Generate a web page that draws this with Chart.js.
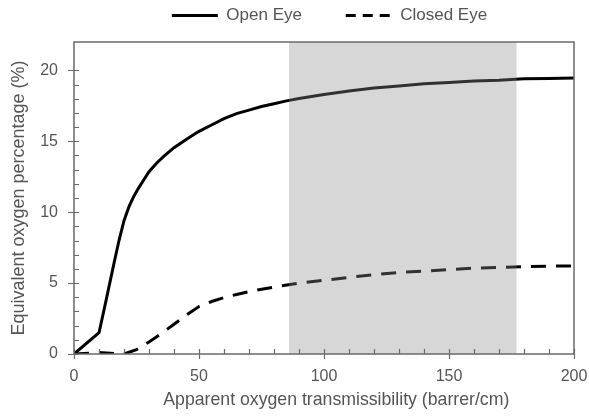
<!DOCTYPE html>
<html>
<head>
<meta charset="utf-8">
<script src="https://cdn.jsdelivr.net/npm/chart.js@4.4.1/dist/chart.umd.min.js"></script>
<style>
  html, body { margin: 0; padding: 0; background: #ffffff; }
  #wrap { width: 589px; height: 416px; }
</style>
</head>
<body>
<div id="wrap"><canvas id="chart" width="589" height="416"></canvas></div>
<script>
// Equivalent oxygen percentage vs. apparent oxygen transmissibility
const seriesNames = ['Open Eye', 'Closed Eye'];

const openEyeDk = [0, 10, 12, 14, 16, 18, 20, 22, 24, 26, 28, 30, 33, 36, 40, 45, 50, 55, 60, 65, 70, 75, 80, 85, 90, 100, 110, 120, 130, 140, 150, 160, 170, 180, 190, 200];
const openEyePct = [0, 1.5, 3.1, 4.75, 6.4, 8.0, 9.4, 10.4, 11.15, 11.75, 12.3, 12.85, 13.45, 13.95, 14.55, 15.15, 15.7, 16.15, 16.6, 16.95, 17.2, 17.45, 17.65, 17.85, 18.02, 18.3, 18.55, 18.75, 18.9, 19.05, 19.15, 19.25, 19.3, 19.4, 19.42, 19.47];

const closedEyeDk = [0, 10, 20, 25, 30, 35, 40, 45, 50, 55, 60, 65, 70, 80, 90, 100, 110, 120, 130, 140, 150, 160, 170, 180, 190, 200];
const closedEyePct = [0, 0.1, 0, 0.3, 0.85, 1.45, 2.1, 2.75, 3.35, 3.7, 3.98, 4.2, 4.4, 4.72, 5.0, 5.2, 5.4, 5.6, 5.75, 5.85, 5.95, 6.05, 6.1, 6.15, 6.2, 6.2];

// Shaded transmissibility range
const bandRange = [86, 177];

const xTickStep = 50, xMinorStep = 10;
const yTickStep = 5, yMinorStep = 1;

const FONT = '"Liberation Sans", Arial, sans-serif';
const TEXT = '#555555';
const AXIS = '#6a6a6a';

const toPoints = (xs, ys) => xs.map((x, i) => ({ x, y: ys[i] }));

const decor = {
  id: 'decor',
  afterLayout(chart) {
    // legend row sits right of the canvas centre, close to the top edge
    const lg = chart.legend;
    lg.left += 35;
    lg.right += 35;
    lg.top -= 8;
    lg.bottom -= 8;
  },
  afterDatasetsDraw(chart) {
    const { ctx, chartArea: a, scales: { x } } = chart;
    const x0 = x.getPixelForValue(bandRange[0]);
    const x1 = x.getPixelForValue(bandRange[1]);
    ctx.save();
    ctx.fillStyle = 'rgba(140,140,140,0.35)';
    ctx.fillRect(x0, a.top, x1 - x0, a.bottom - a.top);
    ctx.restore();
  },
  afterDraw(chart) {
    const { ctx, chartArea: a, scales: { x, y } } = chart;
    ctx.save();
    ctx.strokeStyle = AXIS;
    ctx.lineWidth = 1.5;
    ctx.strokeRect(a.left, a.top, a.right - a.left, a.bottom - a.top);
    ctx.lineWidth = 1.2;
    ctx.beginPath();
    for (let v = x.min; v <= x.max; v += xMinorStep) {
      const px = Math.round(x.getPixelForValue(v)) + 0.5;
      const major = v % xTickStep === 0;
      ctx.moveTo(px, a.bottom - 5);
      ctx.lineTo(px, a.bottom + (major ? 5 : 0));
    }
    for (let v = y.min; v <= 20; v += yMinorStep) {
      const py = Math.round(y.getPixelForValue(v)) + 0.5;
      const major = v % yTickStep === 0;
      ctx.moveTo(a.left + 5, py);
      ctx.lineTo(a.left - (major ? 6 : 0), py);
    }
    ctx.stroke();
    ctx.restore();
  }
};

new Chart(document.getElementById('chart'), {
  type: 'line',
  data: {
    datasets: [
      {
        label: seriesNames[0],
        data: toPoints(openEyeDk, openEyePct),
        borderColor: '#000000',
        borderWidth: 3,
        pointRadius: 0,
        pointStyle: 'line',
        tension: 0
      },
      {
        label: seriesNames[1],
        data: toPoints(closedEyeDk, closedEyePct),
        borderColor: '#000000',
        borderWidth: 3,
        borderDash: [15, 10],
        pointRadius: 0,
        pointStyle: 'line',
        tension: 0
      }
    ]
  },
  options: {
    responsive: false,
    devicePixelRatio: 1,
    animation: false,
    layout: { padding: 0 },
    plugins: {
      tooltip: { enabled: false },
      legend: {
        position: 'top',
        labels: {
          usePointStyle: true,
          pointStyleWidth: 46,
          padding: 6,
          color: TEXT,
          font: { family: FONT, size: 17 },
          generateLabels(chart) {
            const items = Chart.defaults.plugins.legend.labels.generateLabels(chart);
            items.forEach((it, i) => {
              it.lineWidth = 3;
              if (i === 0) it.text = it.text + '        ';
              if (i === 1) it.lineDash = [10, 7];
            });
            return items;
          }
        }
      }
    },
    scales: {
      x: {
        type: 'linear',
        min: 0,
        max: 200,
        grid: { display: false, drawTicks: false },
        border: { display: false },
        ticks: { stepSize: xTickStep, padding: 13, color: TEXT, font: { family: FONT, size: 16 } },
        title: {
          display: true,
          text: '     Apparent oxygen transmissibility (barrer/cm)',
          color: TEXT,
          font: { family: FONT, size: 17.7 },
          padding: { top: 0, bottom: 5 }
        },
        afterFit(scale) { scale.height = 62; scale.paddingRight = 15; }
      },
      y: {
        min: 0,
        max: 22,
        grid: { display: false, drawTicks: false },
        border: { display: false },
        ticks: { stepSize: yTickStep, includeBounds: false, padding: 16, color: TEXT, font: { family: FONT, size: 16 } },
        title: {
          display: true,
          text: 'Equivalent oxygen percentage (%)',
          color: TEXT,
          font: { family: FONT, size: 18 },
          padding: { top: 8, bottom: 0 }
        },
        afterFit(scale) { scale.width = 74; scale.paddingTop = 42; }
      }
    }
  },
  plugins: [decor]
});
</script>
</body>
</html>
